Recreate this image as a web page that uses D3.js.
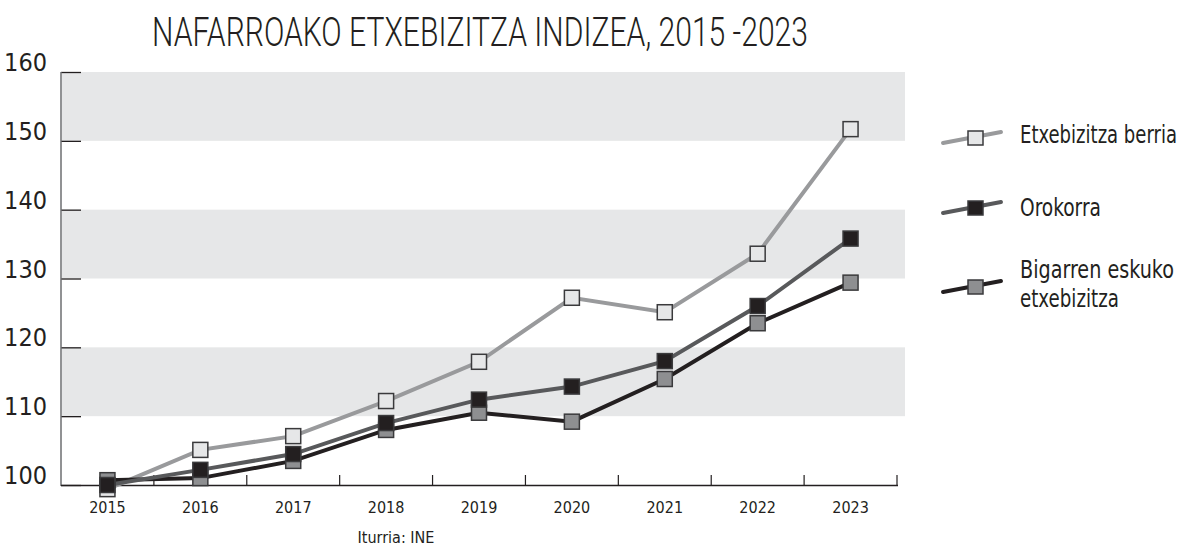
<!DOCTYPE html>
<html>
<head>
<meta charset="utf-8">
<script src="https://cdn.jsdelivr.net/npm/d3@7"></script>
<style>
  body { margin: 0; background: #fff; }
  svg { display: block; }
  text { font-family: "Liberation Sans Narrow", "DejaVu Sans Condensed", "Roboto", sans-serif; fill: #231f20; }
</style>
</head>
<body>
<svg id="chart" width="1184" height="551"></svg>
<script>
// years on the x axis
var years = ["2015", "2016", "2017", "2018", "2019", "2020", "2021", "2022", "2023"];
var yTicks = [100, 110, 120, 130, 140, 150, 160];
// shaded bands behind the plot
var bands = [[110, 120], [130, 140], [150, 160]];

var seriesNames = ["Etxebizitza berria", "Bigarren eskuko etxebizitza", "Orokorra"];
var berria = [99.4, 105.1, 107.1, 112.2, 117.9, 127.2, 125.1, 133.6, 151.7];
var bigarren = [100.7, 101.0, 103.5, 108.0, 110.5, 109.2, 115.4, 123.5, 129.4];
var orokorra = [100.0, 102.2, 104.5, 109.0, 112.4, 114.3, 118.0, 126.0, 135.8];

var svg = d3.select("#chart");

var x = d3.scaleBand().domain(years).range([61, 897]);
var y = d3.scaleLinear().domain([100, 160]).range([485, 72]);

//bands
svg.selectAll("rect.band").data(bands).enter().append("rect")
    .attr("class", "band")
    .attr("x", 62)
    .attr("width", 905 - 62)
    .attr("y", function(d) { return y(d[1]); })
    .attr("height", function(d) { return y(d[0]) - y(d[1]); })
    .attr("fill", "#e6e7e8");

//title
svg.append("text")
    .attr("x", 152).attr("y", 46)
    .attr("textLength", 656).attr("lengthAdjust", "spacingAndGlyphs")
    .style("font-family", "Roboto, sans-serif")
    .style("font-weight", 300)
    .style("font-size", "40px")
    .text("NAFARROAKO ETXEBIZITZA INDIZEA, 2015 -2023");

//y axis
var yAxis = d3.axisRight(y).tickValues(yTicks).tickSize(20).tickFormat("");
var gy = svg.append("g").attr("transform", "translate(61,0)").call(yAxis);
gy.select(".domain").remove();
gy.selectAll(".tick line").attr("stroke", "#231f20").attr("stroke-width", 1.3);
svg.append("line").attr("x1", 61).attr("x2", 61).attr("y1", 72).attr("y2", 486)
    .attr("stroke", "#6d6e71").attr("stroke-width", 1.5);

svg.selectAll("text.ylab").data(yTicks).enter().append("text")
    .attr("class", "ylab")
    .attr("x", 47).attr("y", function(d) { return y(d) - 1; })
    .attr("text-anchor", "end")
    .style("font-size", "25px")
    .text(function(d) { return d; });

//x axis: ticks sit on the band boundaries
var bounds = years.map(function(d) { return x(d); }).concat([x.range()[1]]);
svg.append("line").attr("x1", 61).attr("x2", 898).attr("y1", 485.5).attr("y2", 485.5)
    .attr("stroke", "#231f20").attr("stroke-width", 1.3);
svg.selectAll("line.xtick").data(bounds.slice(1)).enter().append("line")
    .attr("class", "xtick")
    .attr("x1", function(d) { return d; }).attr("x2", function(d) { return d; })
    .attr("y1", 485).attr("y2", 475)
    .attr("stroke", "#231f20").attr("stroke-width", 1.2);

svg.selectAll("text.xlab").data(years).enter().append("text")
    .attr("class", "xlab")
    .attr("x", function(d) { return x(d) + x.bandwidth() / 2; })
    .attr("y", 513)
    .attr("text-anchor", "middle")
    .style("font-size", "16px")
    .text(function(d) { return d; });

svg.append("text")
    .attr("x", 396).attr("y", 543)
    .attr("text-anchor", "middle")
    .style("font-size", "16px")
    .text("Iturria: INE");

//series, drawn back to front
var series = [
    {name: "Etxebizitza berria", values: berria, line: "#999a9c", fill: "#e6e7e8", ly: 138},
    {name: "Bigarren eskuko etxebizitza", values: bigarren, line: "#231f20", fill: "#8e8f91", ly: 287},
    {name: "Orokorra", values: orokorra, line: "#58595b", fill: "#231f20", ly: 208}
];

var line = d3.line()
    .x(function(d, i) { return x(years[i]) + x.bandwidth() / 2; })
    .y(function(d) { return y(d); });

var ms = 15;
series.forEach(function(s) {
    svg.append("path")
        .datum(s.values)
        .attr("d", line)
        .attr("fill", "none")
        .attr("stroke", s.line)
        .attr("stroke-width", 4);
});
series.forEach(function(s) {
    svg.selectAll(null).data(s.values).enter().append("rect")
        .attr("x", function(d, i) { return x(years[i]) + x.bandwidth() / 2 - ms / 2; })
        .attr("y", function(d) { return y(d) - ms / 2; })
        .attr("width", ms).attr("height", ms)
        .attr("fill", s.fill)
        .attr("stroke", "#3a3a3c")
        .attr("stroke-width", 1.5);
});

//legend
series.forEach(function(s) {
    var g = svg.append("g").attr("transform", "translate(976," + s.ly + ")");
    g.append("line").attr("x1", -33).attr("y1", 5).attr("x2", 25).attr("y2", -6)
        .attr("stroke", s.line).attr("stroke-width", 4).attr("stroke-linecap", "round");
    g.append("rect").attr("x", -8).attr("y", -7).attr("width", 15).attr("height", 14)
        .attr("fill", s.fill).attr("stroke", "#3a3a3c").attr("stroke-width", 1.5);
});

//legend labels squeezed horizontally to the reference widths
var legendText = [
    {t: "Etxebizitza berria", y: 143, w: 157},
    {t: "Orokorra", y: 216, w: 81},
    {t: "Bigarren eskuko", y: 278, w: 154},
    {t: "etxebizitza", y: 307, w: 99}
];
svg.selectAll("text.leg").data(legendText).enter().append("text")
    .attr("class", "leg")
    .style("font-size", "24px")
    .text(function(d) { return d.t; })
    .attr("transform", function(d) {
        var sx = d.w / this.getComputedTextLength();
        return "translate(1020," + d.y + ") scale(" + sx + ",1)";
    });
</script>
</body>
</html>
